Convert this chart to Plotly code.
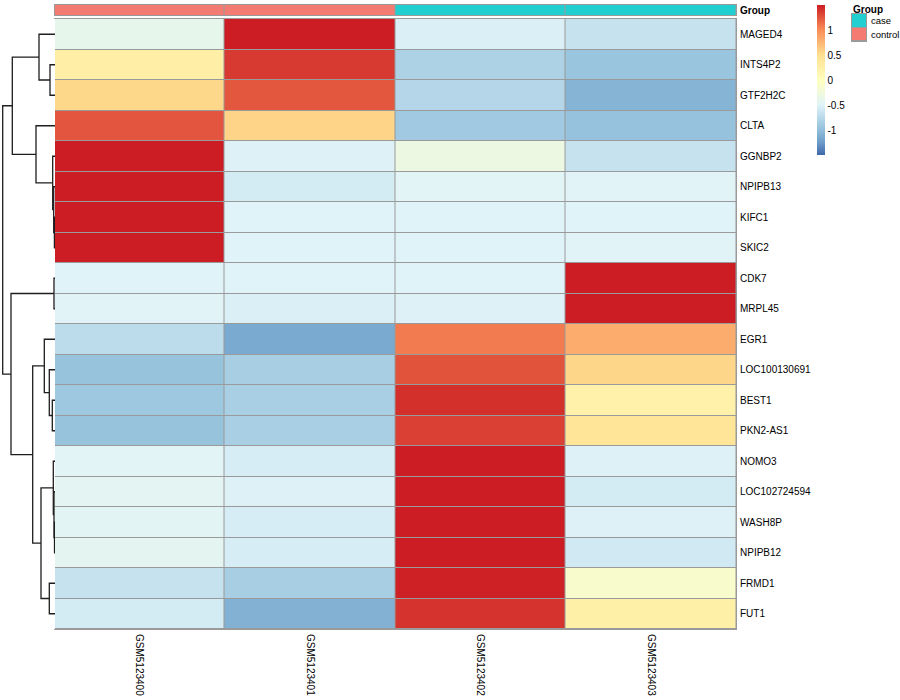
import plotly.graph_objects as go

# ---------------- data ----------------
samples = ["GSM5123400", "GSM5123401", "GSM5123402", "GSM5123403"]
sample_group = ["control", "control", "case", "case"]
group_levels = ["case", "control"]
group_colors = ["#22CFD0", "#F47B72"]

genes = ["MAGED4", "INTS4P2", "GTF2H2C", "CLTA", "GGNBP2", "NPIPB13", "KIFC1",
         "SKIC2", "CDK7", "MRPL45", "EGR1", "LOC100130691", "BEST1", "PKN2-AS1",
         "NOMO3", "LOC102724594", "WASH8P", "NPIPB12", "FRMD1", "FUT1"]

# row-scaled expression (z-scores), one list per sample column
gsm5123400 = [-0.39, 0.27, 0.55, 1.25, 1.50, 1.50, 1.50, 1.50, -0.50, -0.48,
              -0.72, -0.96, -0.92, -0.96, -0.47, -0.45, -0.46, -0.44, -0.66, -0.58]
gsm5123401 = [1.50, 1.37, 1.24, 0.57, -0.52, -0.58, -0.50, -0.50, -0.50, -0.53,
              -1.15, -0.86, -0.85, -0.85, -0.56, -0.52, -0.56, -0.56, -0.86, -1.10]
gsm5123402 = [-0.53, -0.82, -0.78, -0.90, -0.31, -0.47, -0.50, -0.50, -0.50, -0.52,
              1.08, 1.26, 1.42, 1.34, 1.50, 1.50, 1.50, 1.50, 1.48, 1.40]
gsm5123403 = [-0.66, -0.94, -1.08, -0.97, -0.66, -0.48, -0.50, -0.49, 1.50, 1.50,
              0.81, 0.56, 0.23, 0.42, -0.52, -0.58, -0.52, -0.60, -0.12, 0.25]

# row dendrogram (linkage): leaf names or indices of earlier merges, with heights
merge_left = ["KIFC1", "NPIPB13", "GGNBP2", "CLTA", "INTS4P2", "MAGED4", 5,
              "CDK7", "BEST1", "LOC100130691", "EGR1", "WASH8P", "LOC102724594",
              "NOMO3", "FRMD1", 13, 10, 7, 6]
merge_right = ["SKIC2", 0, 1, 2, "GTF2H2C", 4, 3,
               "MRPL45", "PKN2-AS1", 8, 9, "NPIPB12", 11,
               12, "FUT1", 14, 15, 16, 17]
merge_height = [0.6, 1.3, 2.3, 19.0, 5.0, 16.0, 42.7,
                1.0, 2.7, 5.7, 10.7, 0.5, 1.0,
                1.7, 5.7, 14.0, 22.3, 44.0, 52.3]

colorscale_vals = [-1.5, -1.25, -1.0, -0.5, 0.0, 0.5, 1.0, 1.5]
colorscale_cols = ["#3F67AA", "#6D9CC8", "#91BFDB", "#E0F3F8", "#FFFFBF",
                   "#FEE090", "#FA8D58", "#CB1D23"]
legend_ticks = [-1, -0.5, 0, 0.5, 1]

# ---------------- build ----------------
W, H = 900, 700
FONT = "Liberation Sans, Arial, Helvetica, sans-serif"
GRID = "#9A9A9A"


def px_x(p):
    return p / W


def px_y(p):
    return 1 - p / H


zmin, zmax = colorscale_vals[0], colorscale_vals[-1]
cscale = [[(v - zmin) / (zmax - zmin), c] for v, c in zip(colorscale_vals, colorscale_cols)]

z = [list(r) for r in zip(gsm5123400, gsm5123401, gsm5123402, gsm5123403)]

fig = go.Figure()

# main heatmap
fig.add_trace(go.Heatmap(
    z=z, x=list(range(len(samples))), y=list(range(len(genes))),
    colorscale=cscale, zmin=zmin, zmax=zmax, xgap=1, ygap=1,
    hoverinfo="skip",
    colorbar=dict(
        x=px_x(817), xanchor="left", y=px_y(5), yanchor="top",
        len=150 / H, lenmode="fraction", thickness=8, outlinewidth=0,
        tickvals=legend_ticks, ticktext=[str(t) for t in legend_ticks],
        ticks="", tickfont=dict(size=10, family=FONT, color="black"),
        xpad=0, ypad=0,
    ),
    xaxis="x", yaxis="y",
))

# column annotation bar
codes = [group_levels.index(g) for g in sample_group]
gscale = [[0, group_colors[0]], [0.5, group_colors[0]], [0.5, group_colors[1]], [1, group_colors[1]]]
fig.add_trace(go.Heatmap(
    z=[codes], x=list(range(len(samples))), y=[0],
    colorscale=gscale, zmin=0, zmax=1, showscale=False, xgap=1,
    hoverinfo="skip", xaxis="x2", yaxis="y2",
))

# annotation legend
fig.add_trace(go.Heatmap(
    z=[[i] for i in range(len(group_levels))], x=[0], y=list(range(len(group_levels))),
    colorscale=gscale, zmin=0, zmax=1, showscale=False, ygap=1,
    hoverinfo="skip", xaxis="x3", yaxis="y3",
))

# dendrogram
leaf_pos = {g: i for i, g in enumerate(genes)}
node_pos, node_h = [], []
dx, dy = [], []


def node_info(ref):
    if isinstance(ref, str):
        return leaf_pos[ref], 0.0
    return node_pos[ref], node_h[ref]


for a, b, h in zip(merge_left, merge_right, merge_height):
    ya, ha = node_info(a)
    yb, hb = node_info(b)
    dx.extend([ha, h, h, hb, None])
    dy.extend([ya, ya, yb, yb, None])
    node_pos.append((ya + yb) / 2)
    node_h.append(h)

fig.add_trace(go.Scatter(
    x=dx, y=dy, mode="lines", line=dict(color="#1E1E1E", width=1.3),
    hoverinfo="skip", showlegend=False, xaxis="x4", yaxis="y4",
))

hm_x = [px_x(54.5), px_x(736)]
hm_y = [px_y(629), px_y(19)]
nrow = len(genes)

fig.update_layout(
    width=W, height=H, margin=dict(l=0, r=0, t=0, b=0, autoexpand=False),
    paper_bgcolor="white", plot_bgcolor="white", showlegend=False,
    font=dict(family=FONT, size=10, color="black"),
    xaxis=dict(domain=hm_x, range=[-0.5, 3.5], tickvals=list(range(4)), ticktext=samples,
               tickangle=90, ticks="", showgrid=False, zeroline=False, automargin=False,
               showline=True, mirror=True, linecolor=GRID, linewidth=1,
               ticklabelstandoff=2, tickfont=dict(size=10)),
    yaxis=dict(domain=hm_y, range=[nrow - 0.5, -0.5], tickvals=list(range(nrow)), ticktext=genes,
               side="right", ticks="", showgrid=False, zeroline=False, automargin=False,
               showline=True, mirror=True, linecolor=GRID, linewidth=1,
               ticklabelstandoff=1, tickfont=dict(size=10)),
    xaxis2=dict(domain=hm_x, range=[-0.5, 3.5], showticklabels=False, ticks="",
                showgrid=False, zeroline=False, showline=True, mirror=True, automargin=False,
                linecolor=GRID, linewidth=1, anchor="y2"),
    yaxis2=dict(domain=[px_y(15), px_y(5)], range=[-0.5, 0.5], tickvals=[0],
                ticktext=["<b>Group</b>"], side="right", ticks="", showgrid=False,
                zeroline=False, showline=True, mirror=True, linecolor=GRID, linewidth=1,
                automargin=False, ticklabelstandoff=1, tickfont=dict(size=10), anchor="x2"),
    xaxis3=dict(domain=[px_x(852), px_x(866)], range=[-0.5, 0.5], showticklabels=False,
                ticks="", showgrid=False, zeroline=False, showline=True, mirror=True,
                automargin=False, linecolor=GRID, linewidth=1, anchor="y3"),
    yaxis3=dict(domain=[px_y(41), px_y(14)], range=[1.5, -0.5], tickvals=[0, 1],
                ticktext=group_levels, side="right", ticks="", showgrid=False,
                zeroline=False, showline=True, mirror=True, linecolor=GRID, linewidth=1,
                automargin=False, ticklabelstandoff=2, tickfont=dict(size=9.5), anchor="x3"),
    xaxis4=dict(domain=[px_x(2), px_x(55)], range=[53, 0], visible=False, anchor="y4"),
    yaxis4=dict(domain=hm_y, range=[nrow - 0.5, -0.5], visible=False, anchor="x4"),
    shapes=[
        dict(type="rect", xref="x domain", yref="y domain", x0=0, x1=1, y0=0, y1=1,
             fillcolor=GRID, line=dict(width=0), layer="below"),
        dict(type="rect", xref="x2 domain", yref="y2 domain", x0=0, x1=1, y0=0, y1=1,
             fillcolor=GRID, line=dict(width=0), layer="below"),
        dict(type="rect", xref="x3 domain", yref="y3 domain", x0=0, x1=1, y0=0, y1=1,
             fillcolor=GRID, line=dict(width=0), layer="below"),
    ],
    annotations=[
        dict(text="<b>Group</b>", xref="paper", yref="paper", x=px_x(851), y=px_y(2),
             xanchor="left", yanchor="top", showarrow=False, font=dict(size=10)),
    ],
)

fig.write_html("out.html", config={"displayModeBar": False},
               post_script="document.body.style.margin='0';")
